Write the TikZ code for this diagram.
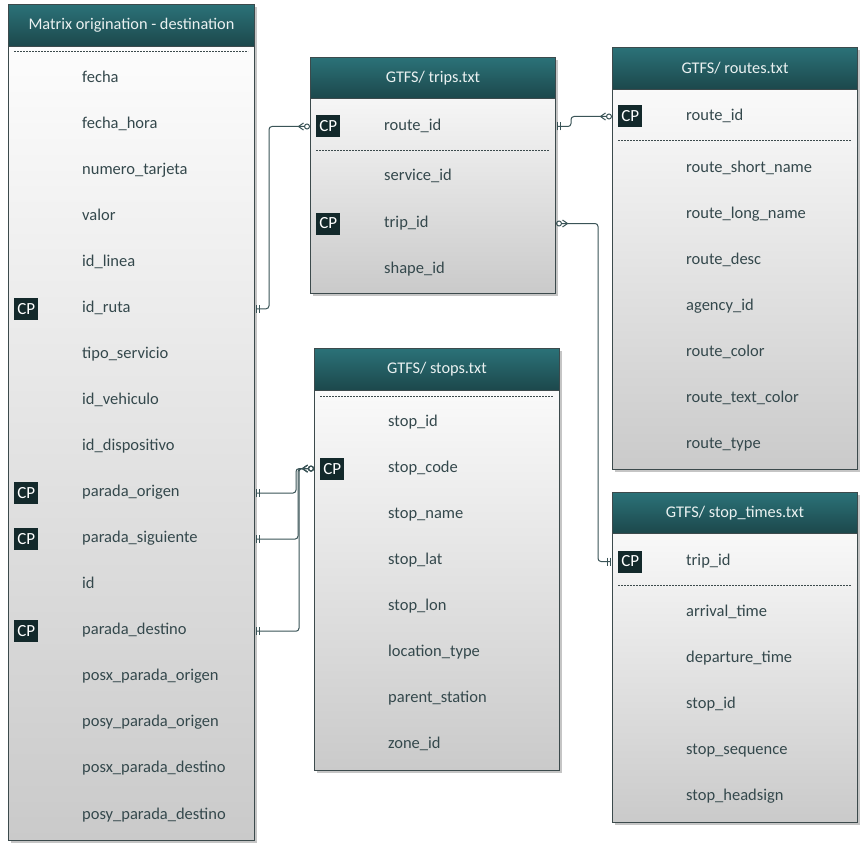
\documentclass[tikz,border=0pt]{standalone}
\usepackage{fontspec}
\setmainfont{Carlito}
\usetikzlibrary{arrows.meta,shadows}
\definecolor{hdrtop}{HTML}{2B7278}
\definecolor{hdrbot}{HTML}{1C474B}
\definecolor{bodybot}{HTML}{CACACA}
\definecolor{edgegray}{HTML}{3C4A4C}
\definecolor{fldtext}{HTML}{34484C}
\definecolor{cpfill}{HTML}{13292B}
\definecolor{wirecol}{HTML}{3A5457}
\tikzset{
  tbl/.style={draw=edgegray, line width=1pt, top color=white, bottom color=bodybot,
    anchor=north west, inner sep=0pt,
    drop shadow={shadow xshift=2.5pt, shadow yshift=-2.5pt, opacity=.45}},
  hdr/.style={draw=edgegray, line width=1pt, top color=hdrtop, bottom color=hdrbot,
    anchor=north west, inner sep=0pt, text=white!90!hdrtop,
    font=\fontsize{16.3}{19}\selectfont},
  fld/.style={anchor=west, inner sep=0pt, text=fldtext, text height=1.5ex, text depth=0pt,
    yshift=-2.5pt, font=\fontsize{16.5}{19}\selectfont},
  cp/.style={fill=cpfill, text=white, anchor=west, minimum width=24pt, minimum height=22pt,
    inner sep=0pt, font=\fontsize{17}{19}\selectfont},
  dashrule/.style={draw=edgegray, dash pattern=on 2pt off 1pt, line width=.8pt},
  wire/.style={draw=wirecol, line width=1pt, rounded corners=3pt},
  erone/.tip={Bar[width=8pt,line width=1pt,sep=2pt] Bar[width=8pt,line width=1pt,sep=1pt]},
  ermany/.tip={Straight Barb[reversed,length=5pt,width=7pt,line width=1pt] Circle[open,length=6pt,line width=1pt]}
}
\begin{document}
\begin{tikzpicture}[x=1pt, y=-1pt]
  \useasboundingbox[fill=white] (0,0) rectangle (866,853);

  % Matrix origination - destination
  \node[tbl, minimum width=246pt, minimum height=836pt] (mtx) at (8,4) {};
  \node[hdr, minimum width=246pt, minimum height=42pt] (mtx-h) at (mtx.north west) {Matrix origination - destination};
  \draw[dashrule] (14,51) -- (248,51);
  \foreach \f [count=\i] in {fecha, fecha\_hora, numero\_tarjeta, valor, id\_linea, id\_ruta,
      tipo\_servicio, id\_vehiculo, id\_dispositivo, parada\_origen, parada\_siguiente, id,
      parada\_destino, posx\_parada\_origen, posy\_parada\_origen, posx\_parada\_destino,
      posy\_parada\_destino}
    \node[fld] (mtx-\i) at (82,{76+46.06*(\i-1)}) {\f};
  \foreach \i in {6,10,11,13}
    \node[cp, xshift=6pt] (mtx-cp\i) at (mtx.west |- mtx-\i) {CP};

  % GTFS/ trips.txt
  \node[tbl, minimum width=245pt, minimum height=236pt] (trp) at (310,57) {};
  \node[hdr, minimum width=245pt, minimum height=41pt] (trp-h) at (trp.north west) {GTFS/ trips.txt};
  \draw[dashrule] (316,150) -- (549,150);
  \node[fld] (trp-1) at (384,124) {route\_id};
  \node[fld] (trp-2) at (384,174) {service\_id};
  \node[fld] (trp-3) at (384,221) {trip\_id};
  \node[fld] (trp-4) at (384,267) {shape\_id};
  \node[cp, xshift=6pt] (trp-cp1) at (trp.west |- trp-1) {CP};
  \node[cp, xshift=6pt] (trp-cp3) at (trp.west |- trp-3) {CP};

  % GTFS/ routes.txt
  \node[tbl, minimum width=245pt, minimum height=422pt] (rte) at (612,47) {};
  \node[hdr, minimum width=245pt, minimum height=42pt] (rte-h) at (rte.north west) {GTFS/ routes.txt};
  \draw[dashrule] (618,140) -- (851,140);
  \node[fld] (rte-1) at (686,114) {route\_id};
  \foreach \f [count=\i from 2] in {route\_short\_name, route\_long\_name, route\_desc,
      agency\_id, route\_color, route\_text\_color, route\_type}
    \node[fld] (rte-\i) at (686,{166+46*(\i-2)}) {\f};
  \node[cp, xshift=6pt] (rte-cp1) at (rte.west |- rte-1) {CP};

  % GTFS/ stops.txt
  \node[tbl, minimum width=245pt, minimum height=422pt] (stp) at (314,348) {};
  \node[hdr, minimum width=245pt, minimum height=42pt] (stp-h) at (stp.north west) {GTFS/ stops.txt};
  \draw[dashrule] (320,396) -- (553,396);
  \foreach \f [count=\i] in {stop\_id, stop\_code, stop\_name, stop\_lat, stop\_lon,
      location\_type, parent\_station, zone\_id}
    \node[fld] (stp-\i) at (388,{420+46.1*(\i-1)}) {\f};
  \node[cp, xshift=6pt] (stp-cp2) at (stp.west |- stp-2) {CP};

  % GTFS/ stop_times.txt
  \node[tbl, minimum width=245pt, minimum height=330pt] (stt) at (612,492) {};
  \node[hdr, minimum width=245pt, minimum height=41pt] (stt-h) at (stt.north west) {GTFS/ stop\_times.txt};
  \draw[dashrule] (618,585) -- (851,585);
  \node[fld] (stt-1) at (686,559) {trip\_id};
  \foreach \f [count=\i from 2] in {arrival\_time, departure\_time, stop\_id,
      stop\_sequence, stop\_headsign}
    \node[fld] (stt-\i) at (686,{610+46.2*(\i-2)}) {\f};
  \node[cp, xshift=6pt] (stt-cp1) at (stt.west |- stt-1) {CP};

  % relations
  \draw[wire, erone-ermany] (mtx.east |- mtx-6) -- ++(14,0) |- (trp.west |- trp-1);
  \draw[wire, erone-ermany] (trp.east |- trp-1) -- ++(15,0) |- (rte.west |- rte-1);
  \draw[wire, ermany-erone] (trp.east |- trp-3) -- ++(42,0) |- (stt.west |- stt-1);
  \draw[wire, erone-ermany] (mtx.east |- mtx-10) -- ++(41,0) |- (stp.west |- stp-2);
  \draw[wire, erone-ermany] (mtx.east |- mtx-11) -- ++(43,0) |- (stp.west |- stp-2);
  \draw[wire, erone-ermany] (mtx.east |- mtx-13) -- ++(44,0) |- (stp.west |- stp-2);
\end{tikzpicture}
\end{document}
